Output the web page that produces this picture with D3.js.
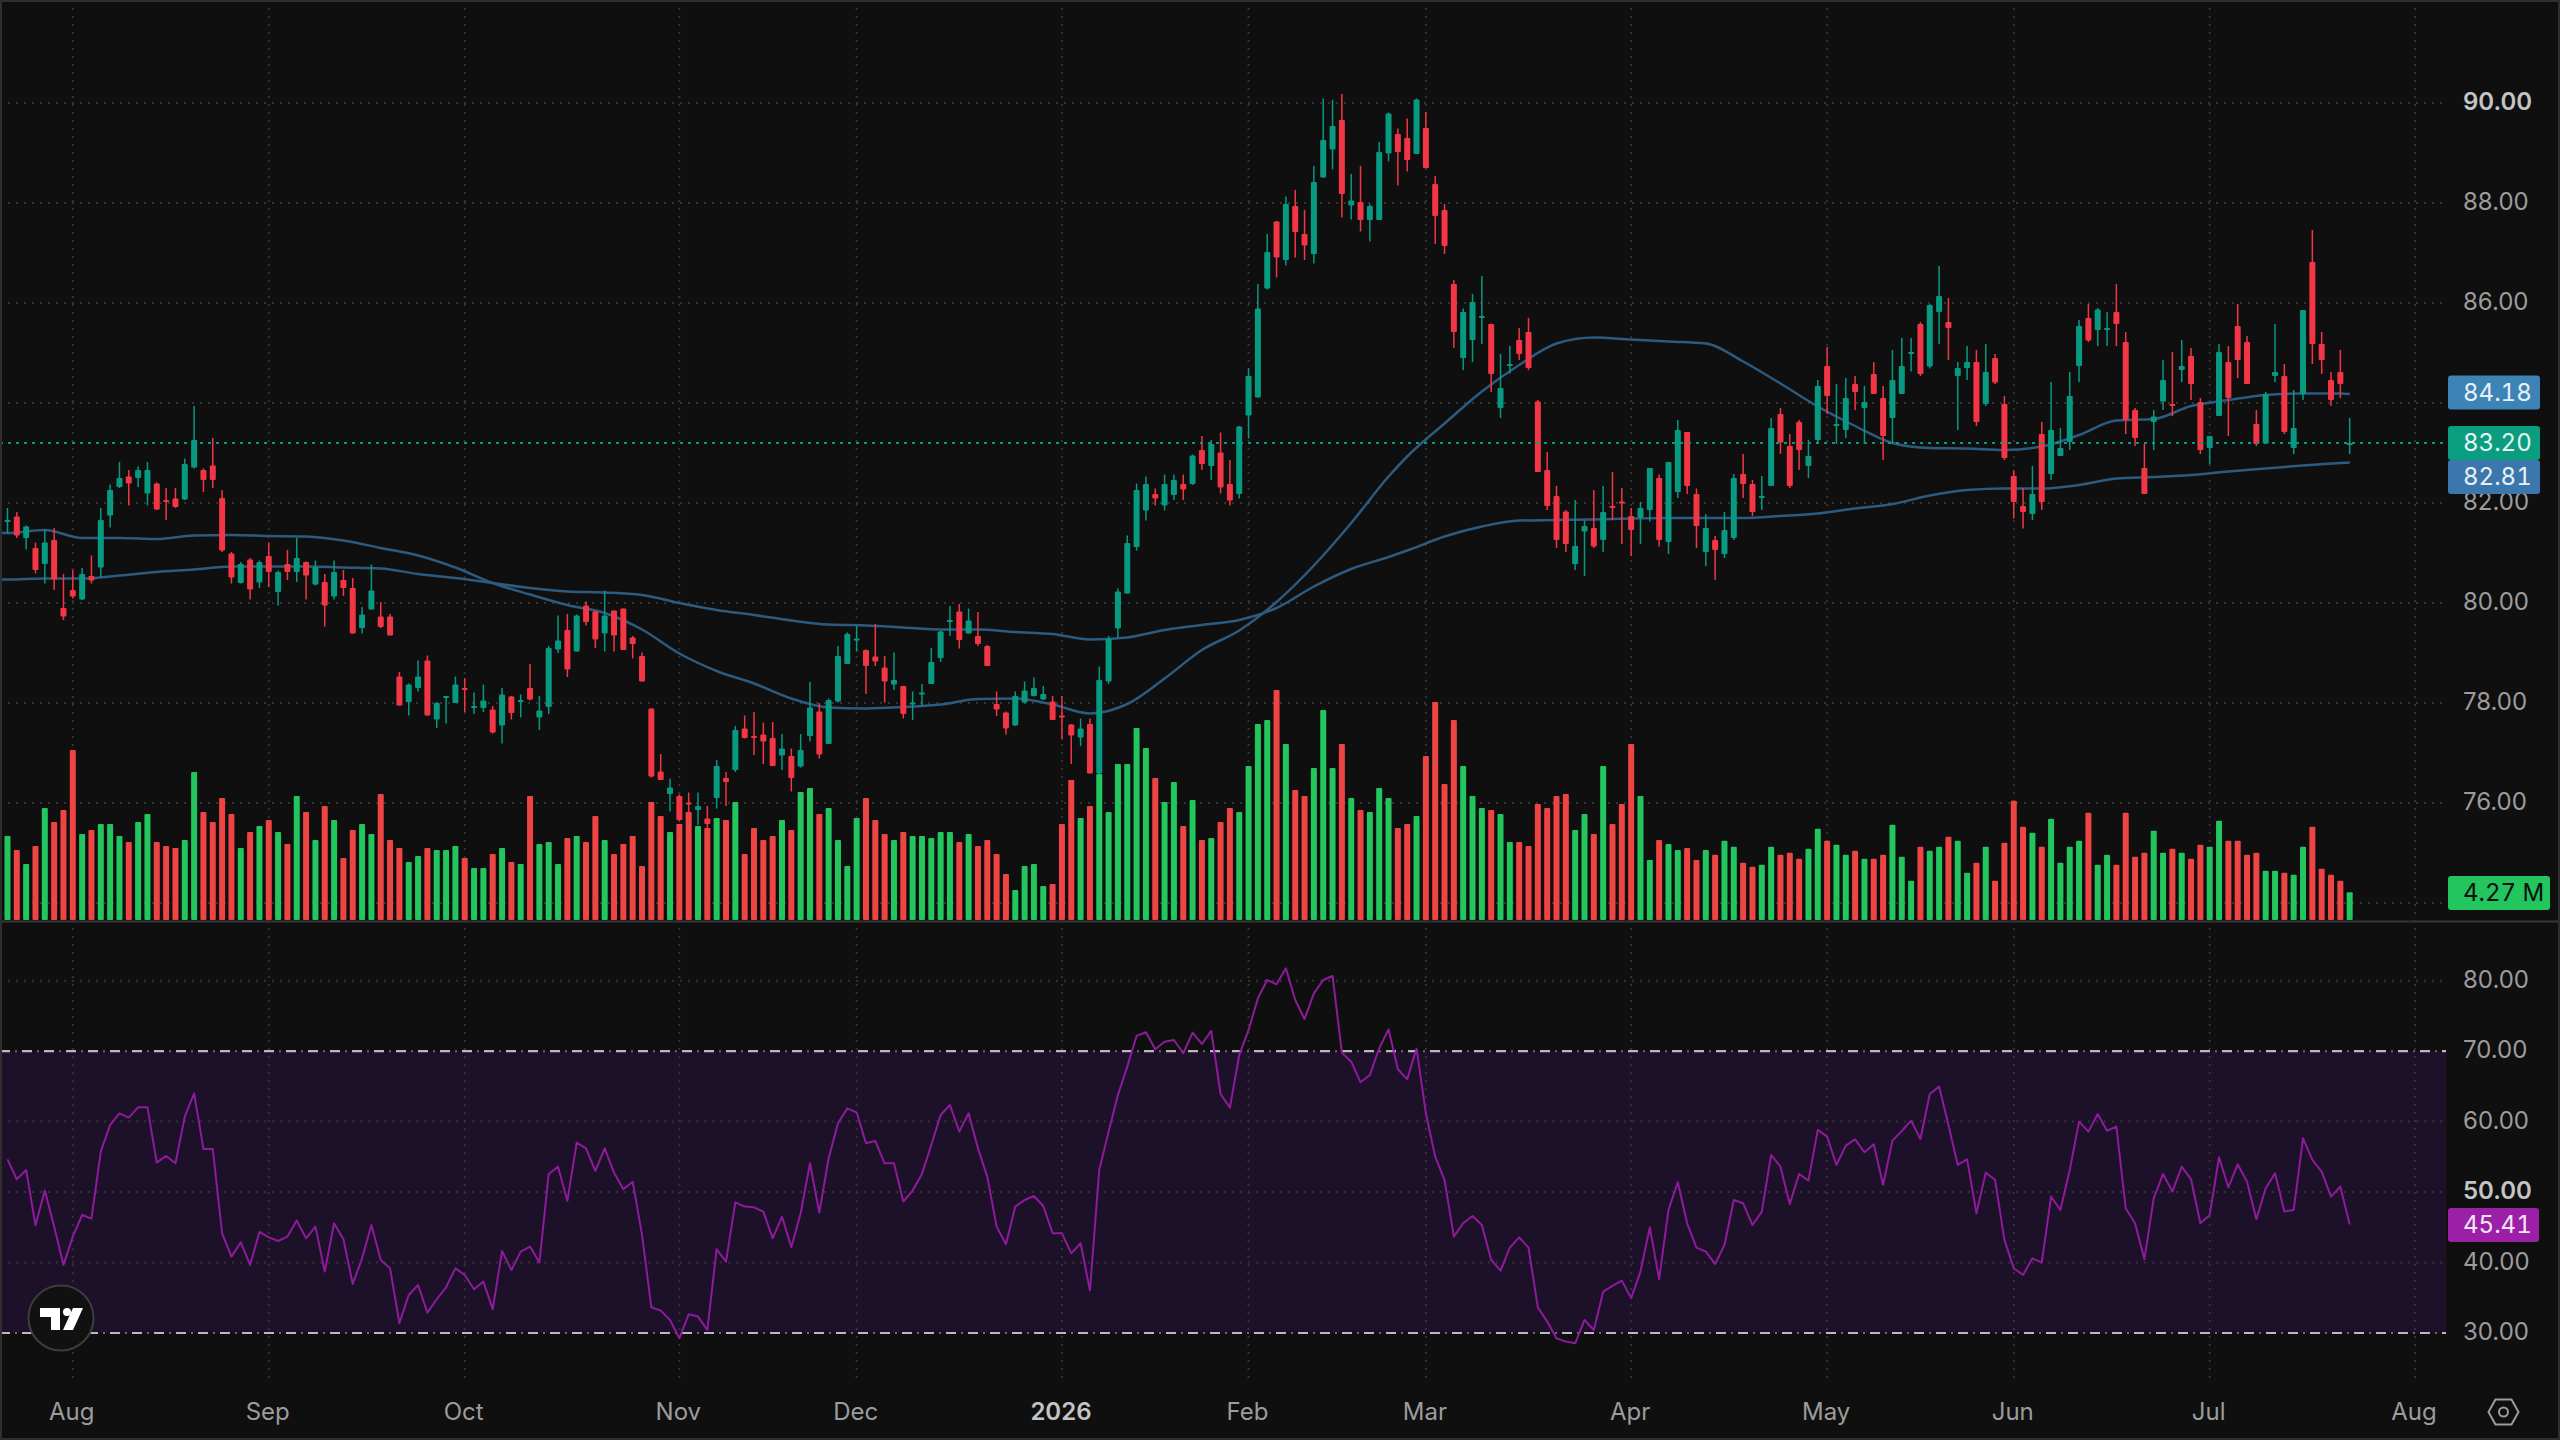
<!DOCTYPE html>
<html>
<head>
<meta charset="utf-8">
<title>Daily price, volume and RSI</title>
<script src="https://cdn.jsdelivr.net/npm/d3@7/dist/d3.min.js"></script>
<style>
  html, body { margin: 0; padding: 0; background: #0f0f0f; }
  svg { display: block; font-family: Inter, "Noto Sans", sans-serif; }
  .tag-text { font-variant-numeric: tabular-nums; font-feature-settings: "tnum"; }
</style>
</head>
<body>
<div id="chart"></div>
<script>
// Daily sessions, oldest first.
const opens = [
81.62,81.73,81.30,81.10,80.78,81.26,79.90,80.26,80.07,80.54,
80.71,81.75,82.32,82.53,82.50,82.19,82.39,82.06,82.09,82.07,
82.71,82.66,82.75,82.10,80.99,80.40,80.87,80.41,80.94,80.22,
80.78,80.62,80.82,80.37,80.42,80.13,80.46,80.30,79.50,79.87,
79.73,79.73,78.53,78.02,78.30,78.85,77.67,78.10,78.00,78.30,
77.91,77.90,77.87,77.55,78.13,78.02,78.30,77.71,77.92,79.07,
79.46,79.03,79.95,79.83,79.39,79.85,79.89,79.31,78.94,77.89,
76.63,76.18,76.14,76.01,75.86,75.69,76.10,76.50,76.66,77.49,
77.34,77.37,77.30,76.95,76.94,76.73,77.34,77.83,77.18,78.03,
78.78,79.26,79.06,78.93,78.71,78.37,78.34,77.99,78.19,78.38,
78.90,79.62,79.83,79.39,79.34,79.14,77.98,77.81,77.55,78.01,
78.14,78.07,78.03,77.75,77.57,77.31,77.58,76.59,78.43,79.49,
80.19,81.12,81.85,82.18,81.95,82.16,82.38,82.38,83.06,82.74,
83.01,82.38,82.18,83.75,84.11,86.29,87.63,86.86,87.94,87.38,
86.98,88.51,89.07,89.66,87.95,88.02,87.66,87.66,88.99,89.38,
89.30,88.98,89.50,88.38,87.86,86.38,84.90,85.26,85.70,85.58,
83.90,84.74,85.26,85.42,84.03,82.66,82.14,81.83,80.78,81.43,
81.50,81.26,81.94,82.03,81.74,81.70,81.86,82.50,81.22,82.22,
83.42,82.18,81.02,81.26,80.98,81.30,82.58,82.38,82.11,82.34,
83.78,83.14,83.62,82.74,83.26,84.74,83.54,83.46,84.38,83.90,
84.58,84.10,83.70,84.18,85.00,85.58,84.73,85.82,85.62,84.54,
84.70,84.82,83.98,84.90,83.98,82.54,81.94,81.78,83.38,82.58,
82.94,83.22,84.74,85.70,85.46,85.46,85.82,85.22,83.86,82.70,
83.62,84.03,83.98,84.66,84.94,84.02,83.10,83.74,84.82,85.54,
85.22,83.58,83.19,84.54,84.54,83.10,84.18,86.82,85.18,84.46,
84.62,83.18];

const highs = [
81.90,81.82,81.55,81.21,81.46,81.50,80.58,80.66,80.70,80.95,
81.90,82.37,82.82,82.66,82.73,82.82,82.41,82.30,82.30,82.89,
83.94,82.69,83.30,82.26,81.02,80.82,80.90,80.85,81.21,80.65,
81.06,81.30,80.83,80.85,80.58,80.85,80.66,80.50,79.92,80.77,
80.02,79.78,78.62,78.39,78.85,78.95,78.02,78.14,78.53,78.50,
78.21,78.37,77.94,78.30,78.14,78.17,78.78,78.14,79.14,79.75,
79.78,79.77,80.03,79.85,80.25,79.85,79.89,79.34,79.01,77.89,
76.98,76.49,76.17,76.21,76.21,75.94,76.86,76.62,77.54,77.75,
77.82,77.61,77.62,77.38,77.09,77.38,78.42,78.00,78.09,79.14,
79.41,79.54,79.07,79.58,78.94,79.01,78.34,78.23,78.38,79.10,
79.45,79.94,79.98,79.89,79.82,79.16,78.23,77.83,78.23,78.43,
78.51,78.34,78.14,78.14,77.58,77.69,77.69,78.73,79.34,80.29,
81.35,82.39,82.53,82.29,82.57,82.57,82.57,82.97,83.34,83.26,
83.41,82.86,83.54,84.69,86.38,87.38,87.64,88.13,88.26,87.86,
88.74,90.09,90.06,90.18,88.58,88.74,87.98,89.22,89.81,89.49,
89.69,90.09,89.82,88.54,87.98,86.46,85.89,86.18,86.54,85.59,
84.98,85.14,85.50,85.70,84.06,83.02,82.34,81.86,82.06,81.65,
82.26,82.34,82.62,82.30,81.90,82.02,82.70,82.57,82.82,83.66,
83.42,82.29,81.78,81.34,81.82,82.58,82.98,82.46,82.54,83.70,
83.90,83.38,83.66,83.26,84.46,85.12,84.38,84.50,84.54,84.34,
84.82,84.34,85.06,85.30,85.30,85.62,85.98,86.74,86.10,84.82,
85.14,85.06,85.18,84.98,84.14,82.66,82.30,82.74,83.62,84.42,
83.50,84.62,85.66,85.98,85.90,85.82,86.38,85.42,83.90,83.18,
83.86,84.86,85.02,85.26,85.10,84.10,83.34,85.18,85.14,85.98,
85.34,83.86,84.22,85.58,84.78,84.26,85.86,87.46,85.42,84.62,
85.06,83.70];

const lows = [
81.40,81.30,81.07,80.59,80.39,80.26,79.66,80.09,80.06,80.39,
80.52,81.51,82.30,81.95,82.32,81.95,81.86,81.66,81.90,82.06,
82.69,82.22,82.30,81.02,80.39,80.39,80.07,80.30,80.32,79.95,
80.46,80.42,80.07,80.35,79.53,80.07,80.14,79.39,79.39,79.87,
79.50,79.35,77.95,77.75,78.23,77.75,77.50,77.59,78.00,77.82,
77.78,77.82,77.39,77.19,77.67,77.71,78.05,77.46,77.78,79.00,
78.52,79.03,79.55,79.10,79.03,79.03,79.06,78.89,78.43,76.51,
76.46,75.83,75.63,75.63,75.56,75.46,75.89,75.94,76.62,77.29,
76.96,76.78,76.74,76.66,76.23,76.71,77.23,76.89,77.18,78.01,
78.78,79.03,78.18,78.74,78.01,78.26,77.69,77.66,77.93,78.38,
78.82,79.34,79.09,79.39,79.14,78.74,77.74,77.37,77.54,77.99,
78.13,78.06,77.66,77.27,76.78,77.14,76.59,76.56,78.38,79.31,
80.19,81.05,81.65,81.95,81.85,82.06,82.06,82.36,82.66,82.46,
82.19,81.95,82.09,83.29,84.11,86.27,86.51,86.75,86.91,86.86,
86.79,88.51,88.67,87.71,87.67,87.43,87.23,87.66,88.83,88.35,
88.63,88.98,88.69,87.18,86.98,85.10,84.66,84.82,85.18,84.22,
83.70,84.59,84.86,84.66,82.62,81.86,81.10,81.02,80.66,80.54,
81.10,81.02,81.66,81.18,80.94,81.18,81.63,81.13,80.98,82.10,
82.18,81.10,80.74,80.46,80.90,81.26,82.10,81.74,81.86,82.34,
82.98,82.30,82.66,82.50,83.22,83.78,83.18,83.30,83.86,83.18,
84.18,82.86,83.18,84.18,84.63,84.54,84.69,85.18,84.86,83.46,
84.46,83.54,83.94,84.38,82.86,81.69,81.49,81.66,81.86,82.46,
82.94,83.06,84.42,85.22,85.14,85.14,85.14,83.38,83.14,82.18,
83.06,83.86,83.74,84.42,84.06,82.98,82.78,83.74,83.34,84.50,
84.38,83.14,83.18,84.42,83.38,82.98,84.06,84.78,84.58,83.94,
84.10,82.98];

const closes = [
81.66,81.35,81.53,80.66,81.21,80.47,79.73,80.13,80.58,80.45,
81.66,82.26,82.50,82.39,82.66,82.66,81.87,82.03,81.92,82.78,
83.26,82.46,82.46,81.05,80.51,80.78,80.27,80.82,80.62,80.62,
80.62,80.90,80.55,80.72,79.95,80.62,80.30,79.39,79.77,80.25,
79.52,79.35,77.95,78.37,78.53,77.75,78.00,78.14,78.37,78.27,
77.94,78.05,77.41,78.17,77.80,78.06,78.07,77.85,79.10,79.25,
78.67,79.75,79.62,79.27,79.75,79.35,79.06,79.18,78.43,76.53,
76.46,76.31,75.66,75.98,75.94,75.58,76.74,76.42,77.46,77.30,
77.30,77.23,76.74,77.09,76.50,77.06,77.91,76.97,78.06,78.94,
79.38,79.29,78.74,78.83,78.43,78.46,77.78,78.01,78.21,78.82,
79.43,79.66,79.26,79.65,79.18,78.74,77.87,77.49,78.14,78.25,
78.30,78.18,77.66,77.71,77.35,77.49,76.59,78.46,79.29,80.23,
81.20,82.26,82.38,82.09,82.38,82.46,82.27,82.95,82.78,83.18,
82.31,82.05,83.53,84.54,85.89,87.02,86.91,87.98,87.42,87.15,
88.42,89.26,89.54,88.18,88.05,87.66,87.94,89.02,89.79,89.02,
88.86,90.07,88.70,87.74,87.14,85.42,85.82,86.02,85.74,84.58,
84.30,84.78,84.98,84.70,82.62,81.94,81.26,81.18,81.14,81.54,
81.13,81.82,81.90,82.00,81.46,81.90,82.70,81.26,82.82,83.46,
82.34,81.54,81.50,81.06,81.46,82.50,82.38,81.82,82.14,83.50,
83.21,82.34,83.06,82.94,84.34,84.14,83.58,84.10,84.22,84.02,
84.18,83.34,84.46,84.74,85.02,84.58,85.96,86.14,85.50,84.70,
84.82,83.62,84.62,84.41,82.90,82.02,81.82,82.18,82.02,83.46,
83.10,84.14,85.54,85.25,85.87,85.50,85.58,83.66,83.30,82.18,
83.73,84.46,83.94,84.74,84.38,83.06,83.34,85.02,84.10,84.86,
84.38,83.18,84.18,84.62,83.42,83.50,85.86,85.18,84.86,84.06,
84.38,83.20];

// Session volume, millions of shares.
const volumes = [
12.96,10.80,8.64,11.41,17.28,15.12,16.97,26.22,13.26,13.88,
14.81,14.81,12.96,12.03,15.12,16.35,12.03,11.41,11.11,12.34,
22.83,16.66,15.12,18.82,16.35,11.11,13.57,14.50,15.42,13.57,
11.72,19.13,16.66,12.34,17.58,15.42,9.56,13.88,14.81,13.26,
19.43,12.34,11.11,8.95,9.87,11.11,10.80,10.80,11.41,9.56,
8.02,8.02,10.18,11.11,8.95,8.64,19.13,11.72,12.03,8.64,
12.65,12.96,12.03,16.04,12.34,10.18,11.72,12.96,8.33,18.20,
16.04,13.57,14.81,16.66,14.50,14.19,15.73,15.42,18.20,10.18,
14.19,12.34,12.96,15.42,13.88,19.74,20.36,16.35,17.28,12.34,
8.33,15.73,18.82,15.42,13.26,12.34,13.57,12.96,12.96,12.65,
13.57,13.57,12.03,13.26,11.41,12.34,10.18,7.10,4.63,8.33,
8.64,5.24,5.55,14.81,21.59,15.73,17.58,22.52,16.66,24.06,
24.06,29.61,26.53,21.90,18.20,21.29,14.50,18.51,12.34,12.65,
15.12,17.28,16.66,23.75,30.23,30.85,35.48,27.15,20.05,19.13,
23.45,32.39,23.45,27.15,18.82,16.97,16.66,20.36,18.82,14.19,
14.81,16.04,25.30,33.62,20.98,30.85,23.75,19.13,17.28,16.97,
16.35,12.03,12.03,11.41,17.89,17.28,19.13,19.43,13.88,16.35,
13.26,23.75,14.81,17.89,27.15,19.13,9.25,12.34,11.72,10.80,
11.11,9.25,10.80,10.08,12.24,11.31,8.84,8.23,8.53,11.31,
10.08,10.39,9.46,11.00,14.09,12.24,11.62,10.08,10.69,9.46,
9.46,10.08,14.70,9.77,6.07,11.31,10.69,11.31,12.85,12.24,
7.30,8.84,11.31,6.07,11.93,18.41,14.40,13.47,11.31,15.63,
8.84,11.31,12.24,16.56,8.53,10.08,8.53,16.56,9.77,10.39,
13.78,10.39,11.00,10.39,9.46,11.62,11.31,15.32,12.24,12.24,
10.08,10.39,7.61,7.61,7.30,6.99,11.31,14.40,7.92,6.99,
6.07,4.27];

// Relative strength index per session.
const rsiValues = [
54.65,51.81,53.14,45.29,50.21,45.10,39.66,43.68,46.75,46.23,
55.74,59.53,61.18,60.57,62.03,62.03,54.18,55.13,54.09,60.71,
64.02,56.12,56.12,44.15,40.84,42.87,39.66,44.34,43.58,43.06,
43.68,45.95,43.44,45.10,38.71,45.57,43.30,36.96,40.60,45.33,
40.37,39.18,31.38,35.40,36.82,32.89,34.79,36.49,39.18,38.24,
36.20,37.29,33.37,41.64,38.95,41.55,42.26,39.99,52.57,53.61,
48.74,57.02,56.21,53.00,56.21,52.76,50.40,51.48,43.92,33.65,
33.18,31.85,29.25,32.66,32.33,30.43,41.88,40.13,48.55,47.94,
47.84,47.23,43.44,46.52,42.16,46.99,54.09,47.08,54.80,59.76,
61.89,61.32,56.92,57.25,54.09,54.09,48.65,50.21,52.57,56.69,
60.94,62.36,58.58,61.18,56.21,52.19,45.10,42.59,47.94,48.88,
49.45,48.03,44.15,44.15,41.31,42.73,36.02,53.14,58.58,63.78,
67.80,72.16,72.68,70.26,71.35,71.59,69.70,72.63,71.02,72.87,
63.92,61.99,69.46,73.01,77.50,80.10,79.49,81.76,77.26,74.57,
78.21,80.10,80.67,69.79,68.51,65.58,66.62,70.41,73.10,67.43,
66.01,70.36,61.18,55.03,51.72,43.68,45.57,46.61,45.33,40.37,
38.85,42.12,43.58,42.12,33.65,31.62,29.25,28.78,28.54,31.85,
30.43,35.87,36.68,37.43,34.93,38.71,45.00,37.62,47.46,51.39,
45.57,42.12,41.55,39.80,42.50,48.88,48.41,45.33,47.23,55.27,
53.61,48.31,52.57,51.63,58.82,57.87,53.85,56.59,57.49,55.65,
56.78,51.01,57.30,58.67,60.14,57.54,63.92,64.97,59.53,53.85,
54.65,46.99,52.76,51.72,43.21,39.18,38.24,40.60,39.99,49.36,
47.46,53.14,60.00,58.58,61.09,58.72,59.29,47.70,45.57,40.46,
49.12,52.57,50.06,53.61,51.81,45.57,46.75,54.94,50.68,53.94,
51.48,46.14,50.54,52.67,47.23,47.46,57.63,54.56,52.90,49.36,
50.77,45.41];

// Moving averages, read at these session numbers.
const maSessions = [
-1,0,4,8,12,16,20,24,28,32,36,40,44,48,52,56,60,64,68,72,76,80,84,88,92,96,100,
104,108,112,116,120,124,128,132,136,140,144,148,150,154,158,162,166,170,174,178,
182,186,190,194,198,202,206,210,214,218,222,226,230,234,238,242,246,250,251];

const maFast = [
81.40,81.40,81.46,81.30,81.30,81.28,81.35,81.36,81.34,81.33,81.25,81.10,80.95,80.71,
80.40,80.17,79.96,79.80,79.47,78.99,78.64,78.39,78.09,77.91,77.89,77.92,77.97,78.08,
78.09,77.97,77.79,77.98,78.49,79.06,79.45,80.02,80.75,81.60,82.53,82.93,83.59,84.23,
84.76,85.19,85.31,85.27,85.23,85.19,84.83,84.39,83.93,83.54,83.20,83.10,83.09,83.06,
83.13,83.36,83.65,83.68,83.94,84.06,84.16,84.19,84.19,84.18];

const maSlow = [
80.47,80.47,80.49,80.49,80.55,80.62,80.67,80.73,80.73,80.73,80.71,80.69,80.58,80.50,
80.40,80.30,80.23,80.21,80.16,80.00,79.86,79.76,79.65,79.57,79.55,79.51,79.47,79.47,
79.42,79.38,79.27,79.31,79.46,79.56,79.66,79.90,80.33,80.68,80.92,81.05,81.33,81.53,
81.65,81.66,81.67,81.69,81.70,81.70,81.70,81.74,81.79,81.89,81.98,82.15,82.26,82.29,
82.29,82.36,82.49,82.52,82.56,82.63,82.69,82.75,82.80,82.81];

// Month labels and the session each one falls on.
const monthLabels = ["Aug","Sep","Oct","Nov","Dec","2026","Feb","Mar","Apr","May","Jun","Jul","Aug"];
const monthSessions = [7,28,49,72,91,113,133,152,174,195,215,236,258];

const priceTicks = [76,78,80,82,86,88,90];
const priceGrid = [74,76,78,80,82,84,86,88,90];
const rsiTicks = [30,40,50,60,70,80];
const rsiBandEdges = [30,70];

const colors = {
  bg: "#0f0f0f", grid: "#333333", frame: "#2e2e2e", text: "#9c9c9c", textStrong: "#c4c4c4",
  up: "#089981", down: "#f23645", volUp: "#22c55e", volDown: "#ef4444",
  ma: "#2d5b80", maFastTag: "#3e83b5", maSlowTag: "#3b77ad", lastTag: "#0a9d80",
  rsi: "#8e1b9c", rsiTag: "#9c1fa8", band: "#1d1029", bandEdge: "#bdb5c0"
};

const width = 2560, height = 1440;
const plotRight = 2446;

const svg = d3.select("#chart").append("svg")
  .attr("width", width).attr("height", height)
  .attr("viewBox", [0, 0, width, height]);

svg.append("rect").attr("width", width).attr("height", height).attr("fill", colors.bg);

const x = d3.scaleLinear().domain([7, 258]).range([72.8, 2415]);
const yPrice = d3.scaleLinear().domain([74, 90]).range([903, 103]);
const yVolume = d3.scaleLinear().domain([0, 36]).range([920, 686.6]);
const yRsi = d3.scaleLinear().domain([30, 80]).range([1333, 980.7]);

const sessions = closes.map((c, i) => ({
  i, open: opens[i], high: highs[i], low: lows[i], close: c,
  volume: volumes[i], rsi: rsiValues[i], up: c >= opens[i]
}));

// RSI band behind everything else in the lower pane
svg.append("rect")
  .attr("x", 0).attr("width", plotRight)
  .attr("y", yRsi(70)).attr("height", yRsi(30) - yRsi(70))
  .attr("fill", colors.band);

// Dotted grid
const grid = svg.append("g").attr("fill", "none")
  .attr("stroke", colors.grid).attr("stroke-width", 2).attr("stroke-dasharray", "2 6");

grid.selectAll("line.month").data(monthSessions).join("line")
  .attr("class", "month")
  .attr("x1", d => x(d)).attr("x2", d => x(d))
  .attr("y1", 0).attr("y2", 1380);

grid.selectAll("line.price").data(priceGrid).join("line")
  .attr("class", "price")
  .attr("x1", 0).attr("x2", plotRight)
  .attr("y1", d => yPrice(d)).attr("y2", d => yPrice(d));

grid.selectAll("line.rsi").data(rsiTicks.filter(d => !rsiBandEdges.includes(d))).join("line")
  .attr("class", "rsi")
  .attr("x1", 0).attr("x2", plotRight)
  .attr("y1", d => yRsi(d)).attr("y2", d => yRsi(d));

// Pane divider
svg.append("line")
  .attr("x1", 0).attr("x2", width).attr("y1", 921.5).attr("y2", 921.5)
  .attr("stroke", "#363636").attr("stroke-width", 2);

// Volume columns
svg.append("g").selectAll("rect").data(sessions).join("rect")
  .attr("x", d => x(d.i) - 3)
  .attr("width", 6)
  .attr("y", d => yVolume(d.volume))
  .attr("height", d => yVolume(0) - yVolume(d.volume))
  .attr("rx", 1)
  .attr("fill", d => d.up ? colors.volUp : colors.volDown);

// Moving averages
const maLine = values => d3.line()
  .x(d => x(d))
  .y((d, k) => yPrice(values[k]))
  .curve(d3.curveMonotoneX)(maSessions);

svg.append("g").attr("fill", "none").attr("stroke", colors.ma).attr("stroke-width", 2.5)
  .selectAll("path").data([maFast, maSlow]).join("path").attr("d", maLine);

// Candles
const candles = svg.append("g").selectAll("g").data(sessions).join("g")
  .attr("fill", d => d.up ? colors.up : colors.down)
  .attr("stroke", d => d.up ? colors.up : colors.down);

candles.append("line")
  .attr("x1", d => x(d.i)).attr("x2", d => x(d.i))
  .attr("y1", d => yPrice(d.high)).attr("y2", d => yPrice(d.low))
  .attr("stroke-width", 1.5);

candles.append("rect")
  .attr("stroke", "none")
  .attr("x", d => x(d.i) - 3)
  .attr("width", 6)
  .attr("y", d => yPrice(Math.max(d.open, d.close)))
  .attr("height", d => Math.max(2, Math.abs(yPrice(d.open) - yPrice(d.close))))
  .attr("rx", 1);

// Last price marker line
const lastClose = closes[closes.length - 1];
svg.append("line")
  .attr("x1", 0).attr("x2", plotRight)
  .attr("y1", yPrice(lastClose)).attr("y2", yPrice(lastClose))
  .attr("stroke", colors.up).attr("stroke-width", 2).attr("stroke-dasharray", "3 5");

// RSI limits: long dashes with a faint dot in each gap
const bandEdges = svg.append("g").selectAll("g").data(rsiBandEdges).join("g");
bandEdges.append("line")
  .attr("x1", 0).attr("x2", plotRight)
  .attr("y1", d => yRsi(d)).attr("y2", d => yRsi(d))
  .attr("stroke", colors.bandEdge).attr("stroke-width", 2.2)
  .attr("stroke-dasharray", "10 12");
bandEdges.append("line")
  .attr("x1", 0).attr("x2", plotRight)
  .attr("y1", d => yRsi(d)).attr("y2", d => yRsi(d))
  .attr("stroke", "#6f6874").attr("stroke-width", 2)
  .attr("stroke-dasharray", "2 20").attr("stroke-dashoffset", -15);

// RSI line
svg.append("path")
  .attr("fill", "none").attr("stroke", colors.rsi).attr("stroke-width", 2)
  .attr("stroke-linejoin", "round")
  .attr("d", d3.line().x(d => x(d.i)).y(d => yRsi(d.rsi))(sessions));

// Axes
function styleAxis(g, strongLabel) {
  g.select(".domain").remove();
  g.selectAll(".tick line").remove();
  g.selectAll(".tick text")
    .attr("font-family", 'Inter, "Noto Sans", sans-serif')
    .attr("font-size", 24)
    .attr("font-weight", t => strongLabel(t) ? 600 : 400)
    .attr("fill", t => strongLabel(t) ? colors.textStrong : colors.text);
}

svg.append("g")
  .attr("transform", "translate(2463,-1)")
  .call(d3.axisRight(yPrice).tickValues(priceTicks).tickFormat(d3.format(".2f")).tickSize(0).tickPadding(0))
  .call(g => styleAxis(g, t => t === 90));

svg.append("g")
  .attr("transform", "translate(2463,-1)")
  .call(d3.axisRight(yRsi).tickValues(rsiTicks).tickFormat(d3.format(".2f")).tickSize(0).tickPadding(0))
  .call(g => styleAxis(g, t => t === 50));

svg.append("g")
  .attr("transform", "translate(-1.5,1403)")
  .call(d3.axisBottom(x).tickValues(monthSessions)
    .tickFormat((d, k) => monthLabels[k]).tickSize(0).tickPadding(0))
  .call(g => styleAxis(g, t => t === 113));

// Value tags on the right scale; a tag that would overlap the last price is pushed below it
const tagHeight = 34;
const lastY = yPrice(lastClose);
const pushBelow = y => (Math.abs(y - lastY) < tagHeight ? lastY + tagHeight : y);

const tags = [
  { text: d3.format(".2f")(maFast[maFast.length - 1]), y: yPrice(maFast[maFast.length - 1]) - 1.5, w: 92, fill: colors.maFastTag, ink: "#e8f0f6" },
  { text: d3.format(".2f")(lastClose), y: lastY, w: 92, fill: colors.lastTag, ink: "#e6f5f1" },
  { text: d3.format(".2f")(maSlow[maSlow.length - 1]), y: pushBelow(yPrice(maSlow[maSlow.length - 1])), w: 92, fill: colors.maSlowTag, ink: "#e8f0f6" },
  { text: d3.format(".2f")(volumes[volumes.length - 1]) + " M", y: 893, w: 102, fill: colors.volUp, ink: "#0f0f0f" },
  { text: d3.format(".2f")(rsiValues[rsiValues.length - 1]), y: 1225, w: 91, fill: colors.rsiTag, ink: "#f3e6f5" }
];

const tagGroups = svg.append("g").selectAll("g").data(tags).join("g")
  .attr("transform", d => `translate(2448,${d.y})`);

tagGroups.append("rect")
  .attr("y", -tagHeight / 2).attr("height", tagHeight)
  .attr("width", d => d.w).attr("rx", 3)
  .attr("fill", d => d.fill);

tagGroups.append("text")
  .attr("class", "tag-text")
  .attr("x", 15).attr("dy", "0.35em")
  .attr("font-size", 24)
  .attr("fill", d => d.ink)
  .text(d => d.text);

// Settings glyph in the corner
const gear = svg.append("g").attr("transform", "translate(2503.5,1412)")
  .attr("fill", "none").attr("stroke", colors.text).attr("stroke-width", 2);
gear.append("path").attr("d", "M-15,0L-8,-12.5H8L15,0L8,12.5H-8Z");
gear.append("circle").attr("r", 4.5);

// Brand badge
const badge = svg.append("g").attr("transform", "translate(61,1318)");
badge.append("circle").attr("r", 32.5).attr("fill", "#111111").attr("stroke", "#3d3d3d").attr("stroke-width", 2);
badge.append("path").attr("fill", "#ffffff")
  .attr("d", "M-21,-10H-1V12H-10V-1H-21Z M12,-10H22L12,12H2Z");
badge.append("circle").attr("cx", 6).attr("cy", -6).attr("r", 4).attr("fill", "#ffffff");

// Outer frame
svg.append("rect")
  .attr("x", 1).attr("y", 1).attr("width", width - 2).attr("height", height - 2)
  .attr("fill", "none").attr("stroke", colors.frame).attr("stroke-width", 2);
</script>
</body>
</html>
